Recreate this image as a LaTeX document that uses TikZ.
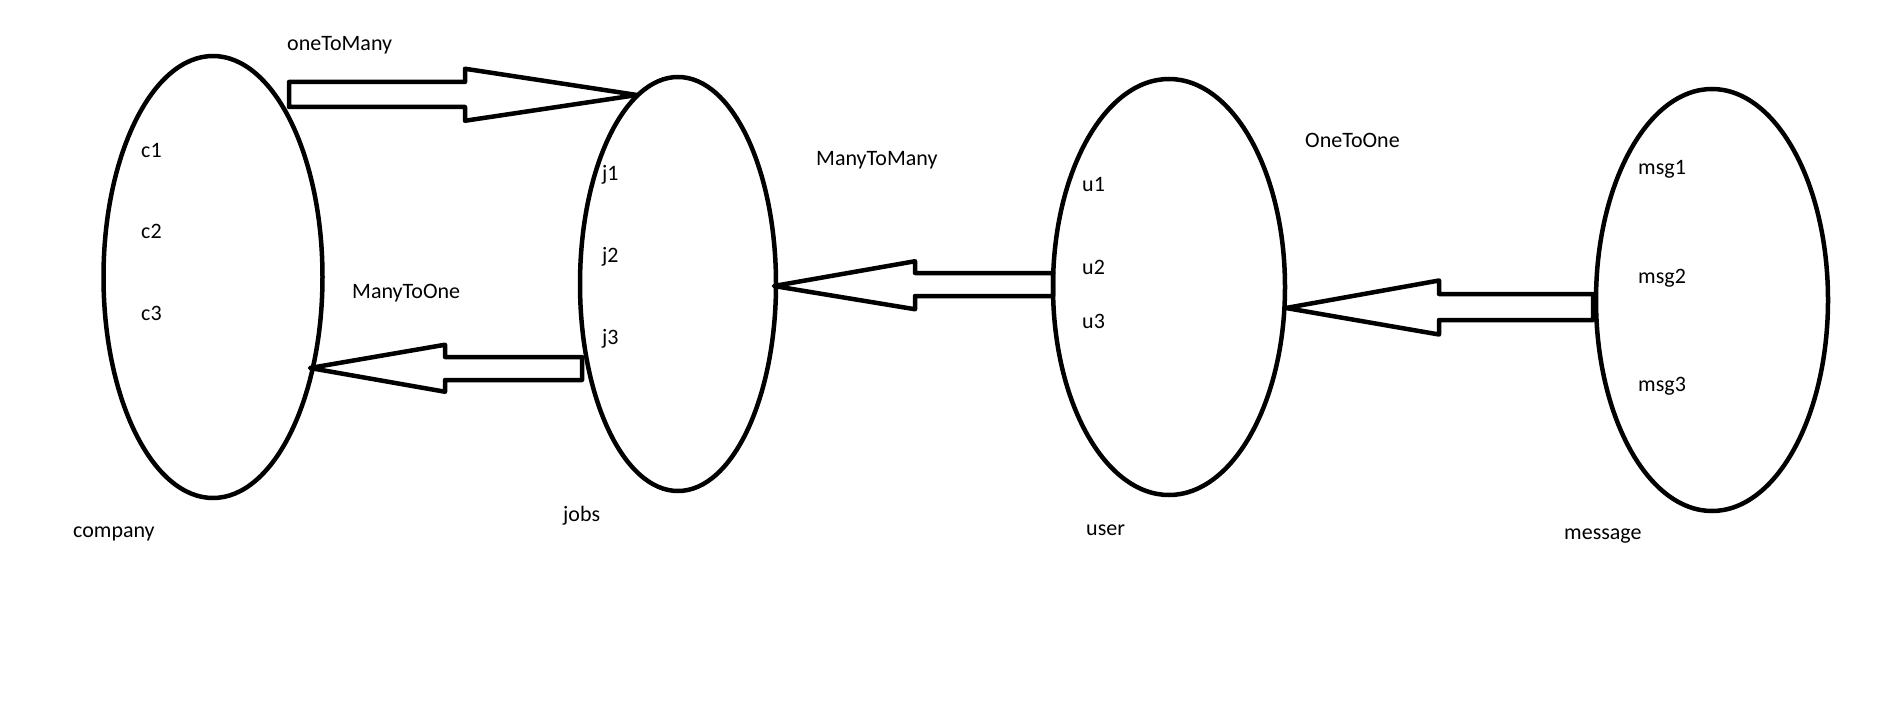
\documentclass[tikz,border=0pt]{standalone}
\usepackage{fontspec}
\setmainfont{Carlito}
\usetikzlibrary{shapes.geometric,calc}

% hollow block arrow: tail, tip, shaft half width, head half width, head length
\newcommand{\blockarrow}[5]{%
  \draw[fat] let \p1 = (#1), \p2 = ($(#2)!#5!(#1)$) in
    (\x1,\y1+#3) -- (\x2,\y1+#3) -- (\x2,\y2+#4) -- (#2)
    -- (\x2,\y2-#4) -- (\x2,\y1-#3) -- (\x1,\y1-#3) -- cycle;}

\begin{document}
\begin{tikzpicture}[
            x = 1pt, y = -1pt, % one unit per pixel, y down
            set/.style = {ellipse, draw=black, line width=4.5pt, inner sep=0pt},
            fat/.style = {draw=black, line width=4.5pt, line join=round},
            lbl/.style = {font=\fontsize{22}{26}\selectfont, anchor=west, inner sep=0pt}
        ]
\useasboundingbox (0,0) rectangle (1898,722);

% the four sets
\node[set, minimum width=219pt, minimum height=442pt] (company) at (213,277) {};
\node[set, minimum width=196pt, minimum height=414pt] (jobs) at (678,284) {};
\node[set, minimum width=232pt, minimum height=416pt] (user) at (1169,287) {};
\node[set, minimum width=232pt, minimum height=422pt] (message) at (1712,300) {};

% elements
\node[lbl] (c1) at (141,150) {c1};
\node[lbl] (c2) at (141,231) {c2};
\node[lbl] (c3) at (141,313) {c3};
\node[lbl] (j1) at (602,175) {j1};
\node[lbl] (j2) at (602,257) {j2};
\node[lbl] (j3) at (602,339) {j3};
\node[lbl] (u1) at (1082,185) {u1};
\node[lbl] (u2) at (1082,267) {u2};
\node[lbl] (u3) at (1082,321) {u3};
\node[lbl] (msg1) at (1638,169) {msg1};
\node[lbl] (msg2) at (1638,278) {msg2};
\node[lbl] (msg3) at (1638,386) {msg3};

% set names
\node[lbl] (companyname) at (73,534) {company};
\node[lbl] (jobsname) at (563,516) {jobs};
\node[lbl] (username) at (1086,530) {user};
\node[lbl] (messagename) at (1564,536) {message};

% relation names
\node[lbl] (onetomany) at (287,45) {oneToMany};
\node[lbl] (manytoone) at (352,293) {ManyToOne};
\node[lbl] (manytomany) at (816,160) {ManyToMany};
\node[lbl] (onetoone) at (1305,140) {OneToOne};

% arrow ends
\coordinate (otmtail) at (289,94.5);
\coordinate (otmtip) at (637,95);
\coordinate (mtotail) at (582,368.5);
\coordinate (mtotip) at (310,368);
\coordinate (mtmtail) at (1053,284.5);
\coordinate (mtmtip) at (774,286);
\coordinate (ototail) at (1593,307);
\coordinate (ototip) at (1286,308);

\blockarrow{otmtail}{otmtip}{12.5pt}{26pt}{172pt}
\blockarrow{mtotail}{mtotip}{11.5pt}{23.5pt}{135pt}
\blockarrow{mtmtail}{mtmtip}{11.5pt}{24pt}{141pt}
\blockarrow{ototail}{ototip}{13pt}{27pt}{153pt}

\end{tikzpicture}
\end{document}
